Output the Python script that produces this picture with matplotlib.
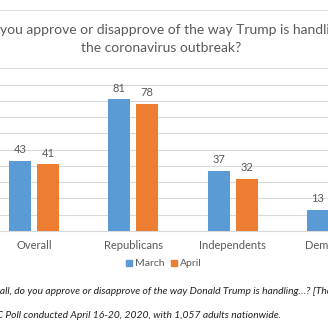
import matplotlib
matplotlib.use("Agg")
import matplotlib.pyplot as plt
import numpy as np
from matplotlib.patches import Patch

plt.rcParams['font.family'] = ['Lato', 'DejaVu Sans']

groups = ['Overall', 'Republicans', 'Independents', 'Democrats']
march = [43, 81, 37, 13]
april = [41, 78, 32, 9]

BLUE = '#5B9BD5'
ORANGE = '#ED7D31'
GRAY = '#595959'

W = H = 328
fig = plt.figure(figsize=(3.28, 3.28), dpi=100)
renderer = fig.canvas.get_renderer()


def text_width(s, **kw):
    t = fig.text(0, 0, s, **kw)
    w = t.get_window_extent(renderer).width
    t.remove()
    return w


# plot area is wider than the canvas: group pitch ~99 px, first group at x=34
pitch = 99.3
left_px = 34 - pitch / 2
ax = fig.add_axes([left_px / W, (H - 231) / H, 4 * pitch / W, 162.6 / H])

x = np.arange(len(groups))
bw = 0.222
off = 14 / pitch
b1 = ax.bar(x - off, march, bw, color=BLUE, zorder=3)
b2 = ax.bar(x + off, april, bw, color=ORANGE, zorder=3)
for bars, vals in ((b1, march), (b2, april)):
    for r, v in zip(bars, vals):
        ax.text(r.get_x() + r.get_width() / 2, v + 3.5, str(v), ha='center', va='bottom',
                fontsize=8, color=GRAY)

ax.set_xlim(-0.5, 3.5)
ax.set_ylim(0, 100)
ax.set_yticks(np.arange(0, 101, 10))
ax.yaxis.grid(True, color='#D9D9D9', lw=0.8, zorder=0)
ax.tick_params(left=False, labelleft=False, bottom=False)
ax.set_xticks(x)
ax.set_xticklabels(groups, fontsize=8, color=GRAY)
ax.tick_params(axis='x', pad=3)
for s in ('left', 'right', 'top'):
    ax.spines[s].set_visible(False)
ax.spines['bottom'].set_color('#D9D9D9')

# frame line above the title
fig.add_artist(plt.Line2D([0, 1], [1 - 10 / H, 1 - 10 / H], color='#E0E0E0', lw=0.8))

fig.text(161.5 / W, 1 - 30 / H, 'Do you approve or disapprove of the way Trump is handling',
         ha='center', va='center', fontsize=10, color=GRAY)
fig.text(161.5 / W, 1 - 48 / H, 'the coronavirus outbreak?',
         ha='center', va='center', fontsize=10, color=GRAY)

fig.legend(handles=[Patch(color=BLUE, label='March'), Patch(color=ORANGE, label='April')],
           loc='center', bbox_to_anchor=(164 / W, 1 - 264 / H), ncol=2, frameon=False,
           fontsize=7.5, handlelength=0.55, handleheight=0.55, handletextpad=0.3,
           columnspacing=0.6, labelcolor=GRAY)

note_kw = dict(ha='left', va='center', fontsize=7.4, style='italic', color='#222222')
x1 = -text_width('Over', **note_kw)
fig.text(x1 / W, 1 - 292 / H,
         'Overall, do you approve or disapprove of the way Donald Trump is handling\u2026? [The coronavirus outbreak]',
         **note_kw)
x2 = 2 - text_width('Source: AP-NORC', **note_kw) + 1
fig.text(x2 / W, 1 - 316 / H,
         'Source: AP-NORC Poll conducted April 16-20, 2020, with 1,057 adults nationwide.',
         **note_kw)

fig.savefig('out.png', dpi=100)
